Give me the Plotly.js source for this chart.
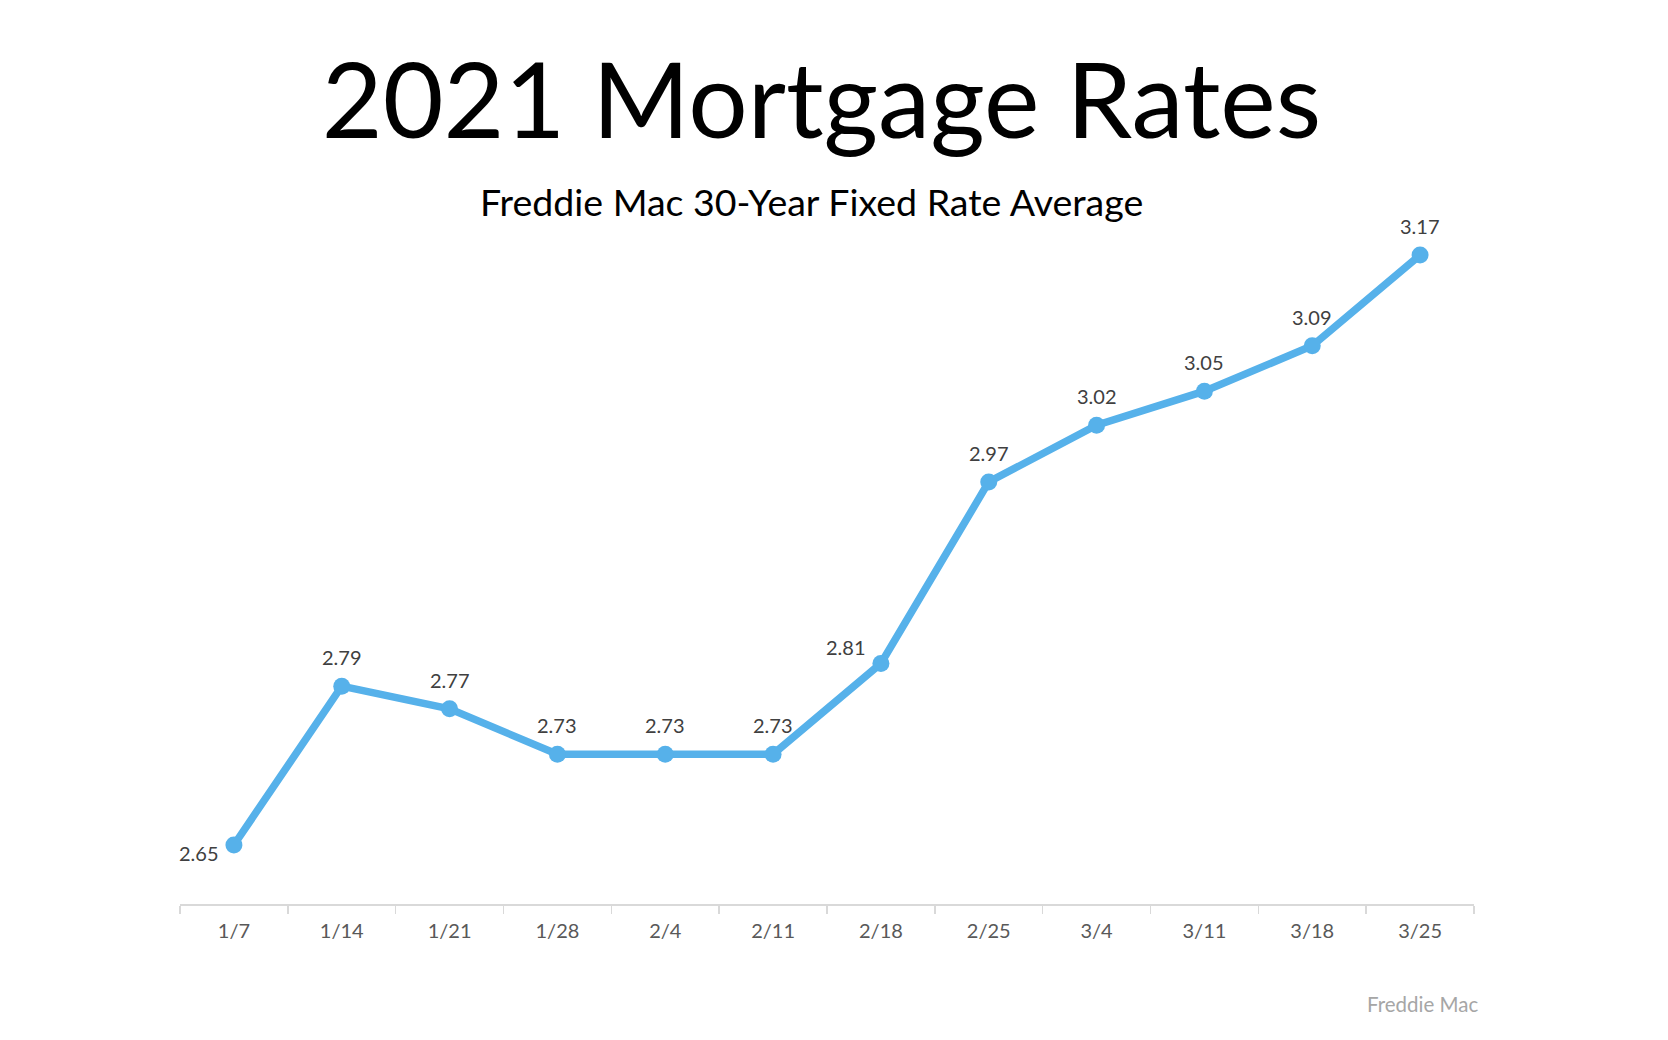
<!DOCTYPE html>
<html>
<head>
<meta charset="utf-8">
<script src="https://cdn.plot.ly/plotly-3.0.1.min.js"></script>
<style>
  html, body { margin: 0; padding: 0; background: #fff; }
  #chart { width: 1668px; height: 1040px; }
</style>
</head>
<body>
<div id="chart"></div>
<script>
const dates = ["1/7", "1/14", "1/21", "1/28", "2/4", "2/11", "2/18", "2/25", "3/4", "3/11", "3/18", "3/25"];
const rates = [2.65, 2.79, 2.77, 2.73, 2.73, 2.73, 2.81, 2.97, 3.02, 3.05, 3.09, 3.17];
const titleText = "2021 Mortgage Rates";
const subtitleText = "Freddie Mac 30-Year Fixed Rate Average";
const sourceText = "Freddie Mac";

const FONT = "Lato, 'Open Sans', sans-serif";
const lineColor = "#56B1EA";

// label offsets (px) for data labels
const labelShift = dates.map((d, i) => {
  if (i === 0) return { x: -35, y: -8 };
  if (i === 6) return { x: -35, y: 16 };
  return { x: 0, y: 29 };
});

const annotations = rates.map((v, i) => ({
  x: dates[i], y: v, xref: "x", yref: "y",
  text: v.toFixed(2), showarrow: false,
  xshift: labelShift[i].x, yshift: labelShift[i].y,
  font: { family: FONT, size: 20, color: "#404040" }
}));

annotations.push({
  xref: "paper", yref: "paper", x: 0.488, y: 1.029,
  xanchor: "center", yanchor: "middle",
  text: subtitleText, showarrow: false,
  font: { family: FONT, size: 37.5, color: "#000000" }
});
annotations.push({
  xref: "paper", yref: "paper", x: 1.005, y: -0.146,
  xanchor: "right", yanchor: "middle",
  text: sourceText, showarrow: false,
  font: { family: FONT, size: 20.5, color: "#A6A6A6" }
});

const trace = {
  x: dates, y: rates, type: "scatter", mode: "lines+markers",
  line: { color: lineColor, width: 7.5 },
  marker: { color: lineColor, size: 17 },
  hoverinfo: "skip"
};

const layout = {
  width: 1668, height: 1040,
  margin: { l: 180, r: 194, t: 221, b: 136 },
  paper_bgcolor: "#ffffff", plot_bgcolor: "#ffffff",
  showlegend: false,
  title: {
    text: titleText, x: 0.4925, xanchor: "center",
    y: 0.903, yref: "container", yanchor: "middle",
    font: { family: FONT, size: 105, color: "#000000" }
  },
  xaxis: {
    type: "category", range: [-0.5, 11.5],
    showgrid: false, zeroline: false,
    showline: true, linecolor: "#D9D9D9", linewidth: 1.5,
    ticks: "outside", tickson: "boundaries", ticklen: 8, tickcolor: "#D9D9D9", tickwidth: 1.5,
    tickfont: { family: FONT, size: 20, color: "#595959" },
    ticklabelstandoff: 8,
    fixedrange: true
  },
  yaxis: {
    range: [2.598, 3.2], visible: false, showgrid: false, zeroline: false, fixedrange: true
  },
  annotations: annotations
};

Plotly.newPlot("chart", [trace], layout, { displayModeBar: false, staticPlot: true });
</script>
</body>
</html>
